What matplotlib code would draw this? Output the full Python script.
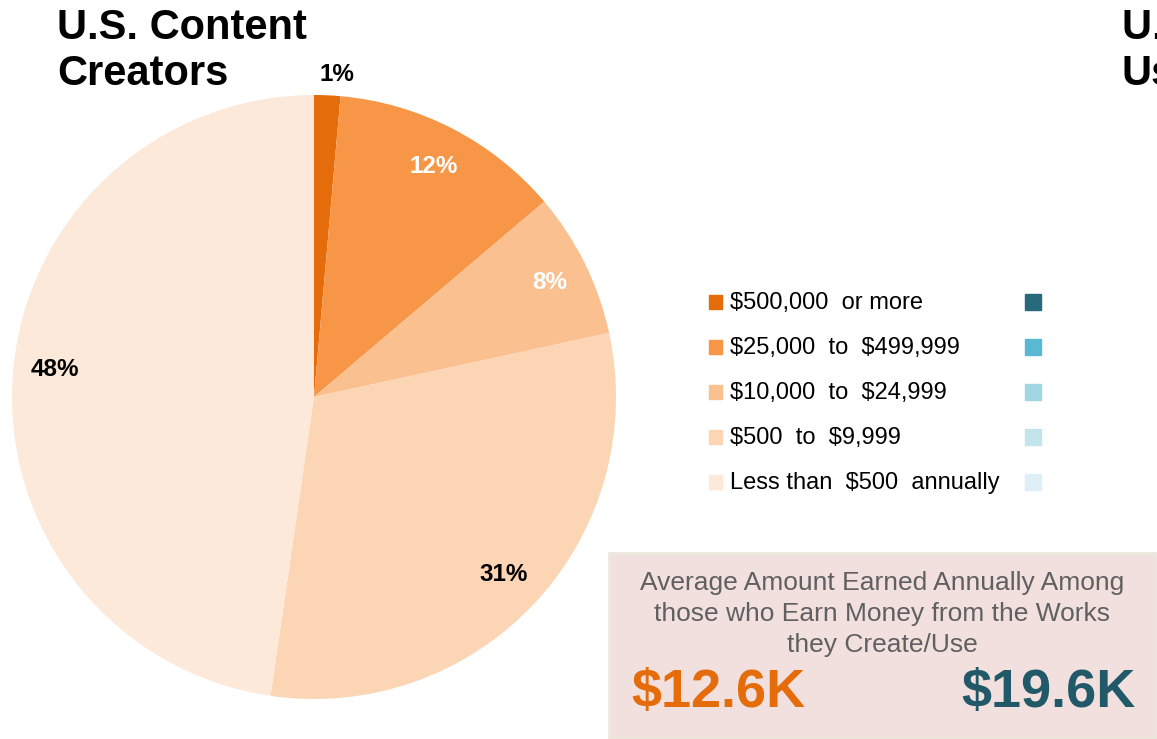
import matplotlib
matplotlib.use("Agg")
import matplotlib.pyplot as plt
from matplotlib.patches import Rectangle
import numpy as np

# Data
categories = ["$500,000  or more", "$25,000  to  $499,999", "$10,000  to  $24,999",
              "$500  to  $9,999", "Less than  $500  annually"]
creators = [1.4, 12.4, 7.8, 30.7, 47.7]
orange_colors = ["#E46C0A", "#F79646", "#FAC090", "#FCD5B5", "#FDE9D9"]
blue_colors = ["#276A7C", "#5BB8D2", "#A0D5E2", "#C4E4EC", "#DFEFF6"]
label_colors = ["black", "white", "white", "black", "black"]
avg_creators = "$12.6K"
avg_users = "$19.6K"

W, H = 1157, 739
plt.rcParams['text.parse_math'] = False
plt.rcParams['font.family'] = ['Liberation Sans', 'DejaVu Sans']
fig = plt.figure(figsize=(W / 100, H / 100), dpi=100)


def px(x, y):
    return x / W, 1 - y / H


# Pie
cx, cy, r = 314, 397, 302
ax = fig.add_axes([(cx - r) / W, (H - cy - r) / H, 2 * r / W, 2 * r / H])
wedges, _ = ax.pie(creators, colors=orange_colors, startangle=90, counterclock=False,
                   radius=1, wedgeprops=dict(linewidth=0))
ax.set_xlim(-1, 1)
ax.set_ylim(-1, 1)
ax.set_aspect("equal")
ax.axis("off")

# percentage labels; small nudges to sit where the original puts them
nudge = [(0.03, 0.0), (0.0, 0.0), (0.01, 0.0), (0.0, 0.0), (0.0, 0.03)]
for i, w in enumerate(wedges):
    mid = np.deg2rad((w.theta1 + w.theta2) / 2)
    d = 1.07 if i == 0 else 0.86
    ax.text(d * np.cos(mid) + nudge[i][0], d * np.sin(mid) + nudge[i][1], f"{creators[i]:.0f}%",
            ha="center", va="center", fontsize=17.5, fontweight="bold",
            color=label_colors[i], clip_on=False)

# Titles
fig.text(*px(57, 8), "U.S. Content\nCreators", fontsize=30, fontweight="bold",
         ha="left", va="top", linespacing=1.2)
fig.text(*px(1122, 8), "U.S. Content\nUsers", fontsize=30, fontweight="bold",
         ha="left", va="top", linespacing=1.2)

# Legend
ys = [302, 347, 392, 437, 482]
for i, y in enumerate(ys):
    fig.patches.append(Rectangle(px(709, y + 7), 13 / W, 14 / H, transform=fig.transFigure,
                                 color=orange_colors[i]))
    fig.patches.append(Rectangle(px(1025, y + 8), 16 / W, 16 / H, transform=fig.transFigure,
                                 color=blue_colors[i]))
    fig.text(*px(730, y + 1), categories[i], fontsize=17, ha="left", va="center")

# Average box
fig.patches.append(Rectangle(px(609, 738), (W - 609) / W, (738 - 553) / H,
                             transform=fig.transFigure, facecolor="#F2E0DF",
                             edgecolor="#ECE8DC", linewidth=2))
fig.text(*px(882, 614), "Average Amount Earned Annually Among\nthose who Earn Money from the Works\nthey Create/Use",
         fontsize=19, color="#606060", ha="center", va="center", linespacing=1.38)
fig.text(*px(718, 693), avg_creators, fontsize=39, fontweight="bold", color="#E46C0A",
         ha="center", va="center")
fig.text(*px(1048, 693), avg_users, fontsize=39, fontweight="bold", color="#215968",
         ha="center", va="center")

fig.savefig("out.png", dpi=100)
